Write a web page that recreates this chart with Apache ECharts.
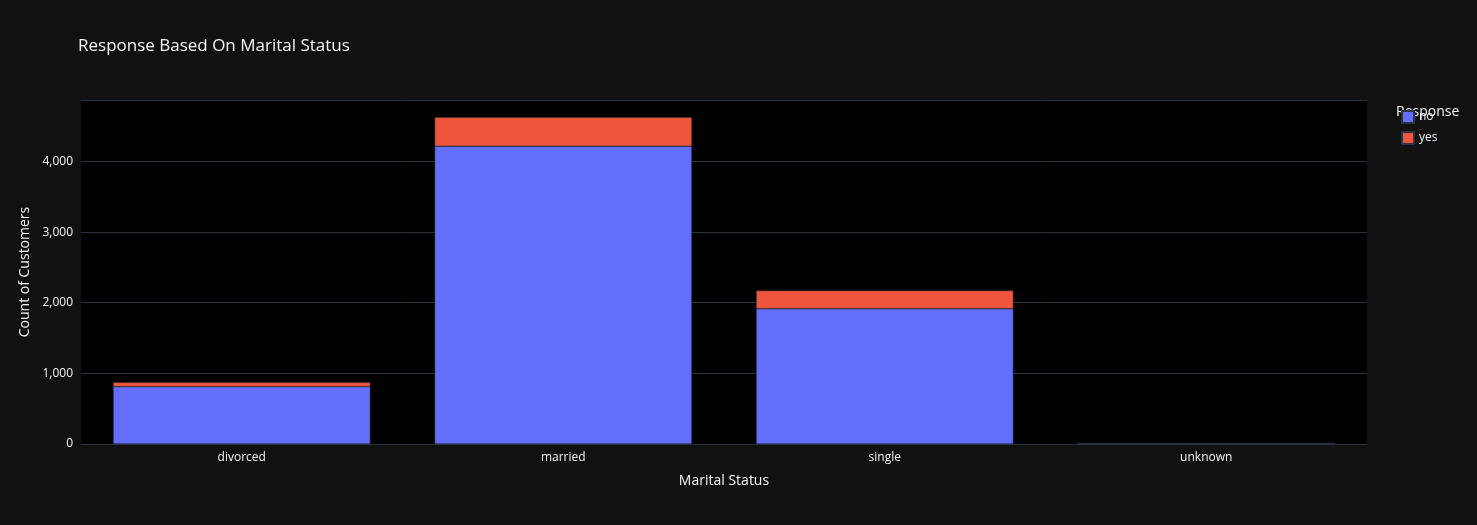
<!DOCTYPE html>
<html>
<head>
<meta charset="UTF-8">
<script src="https://cdn.jsdelivr.net/npm/echarts@6/dist/echarts.min.js"></script>
<style>
  html, body { margin: 0; background: #111111; }
  #chart { width: 1477px; height: 525px; }
</style>
</head>
<body>
<div id="chart"></div>
<script>
const categories = ['divorced', 'married', 'single', 'unknown'];
const noValues = [812, 4216, 1914, 9];
const yesValues = [61, 410, 258, 2];

const chart = echarts.init(document.getElementById('chart'));
const font = '"Open Sans", "DejaVu Sans", sans-serif';
chart.setOption({
    backgroundColor: '#111111',
    textStyle: { fontFamily: font },
    title: {
        text: 'Response Based On Marital Status',
        left: 73, top: 33,
        textStyle: { color: '#f2f5fa', fontSize: 17, fontWeight: 'normal', fontFamily: font }
    },
    legend: {
        orient: 'vertical', left: 1396, top: 105, itemWidth: 12, itemHeight: 12, itemGap: 7,
        icon: 'rect',
        textStyle: { color: '#f2f5fa', fontSize: 12 },
        data: ['no', 'yes']
    },
    graphic: [{
        type: 'text', left: 1396, top: 105,
        style: { text: 'Response', fill: '#f2f5fa', font: '14px ' + font }
    }],
    grid: { left: 81, right: 110, top: 100, bottom: 81, backgroundColor: '#000000', show: true, borderWidth: 0 },
    xAxis: {
        type: 'category', data: categories,
        name: 'Marital Status', nameLocation: 'middle', nameGap: 30,
        nameTextStyle: { color: '#f2f5fa', fontSize: 14 },
        axisLine: { lineStyle: { color: '#283442' } },
        axisTick: { show: false },
        axisLabel: { color: '#f2f5fa', fontSize: 12 }
    },
    yAxis: {
        type: 'value', min: 0, max: 4870, interval: 1000,
        name: 'Count of Customers', nameLocation: 'middle', nameGap: 48,
        nameTextStyle: { color: '#f2f5fa', fontSize: 14 },
        axisLabel: { color: '#f2f5fa', fontSize: 12, showMaxLabel: false },
        splitLine: { lineStyle: { color: '#283442' } }
    },
    series: [
        { name: 'no', type: 'bar', stack: 'r', data: noValues, barCategoryGap: '20%',
          itemStyle: { color: '#636efa', borderColor: '#283442', borderWidth: 0.5 } },
        { name: 'yes', type: 'bar', stack: 'r', data: yesValues,
          itemStyle: { color: '#ef553b', borderColor: '#283442', borderWidth: 0.5 } }
    ]
});
</script>
</body>
</html>
